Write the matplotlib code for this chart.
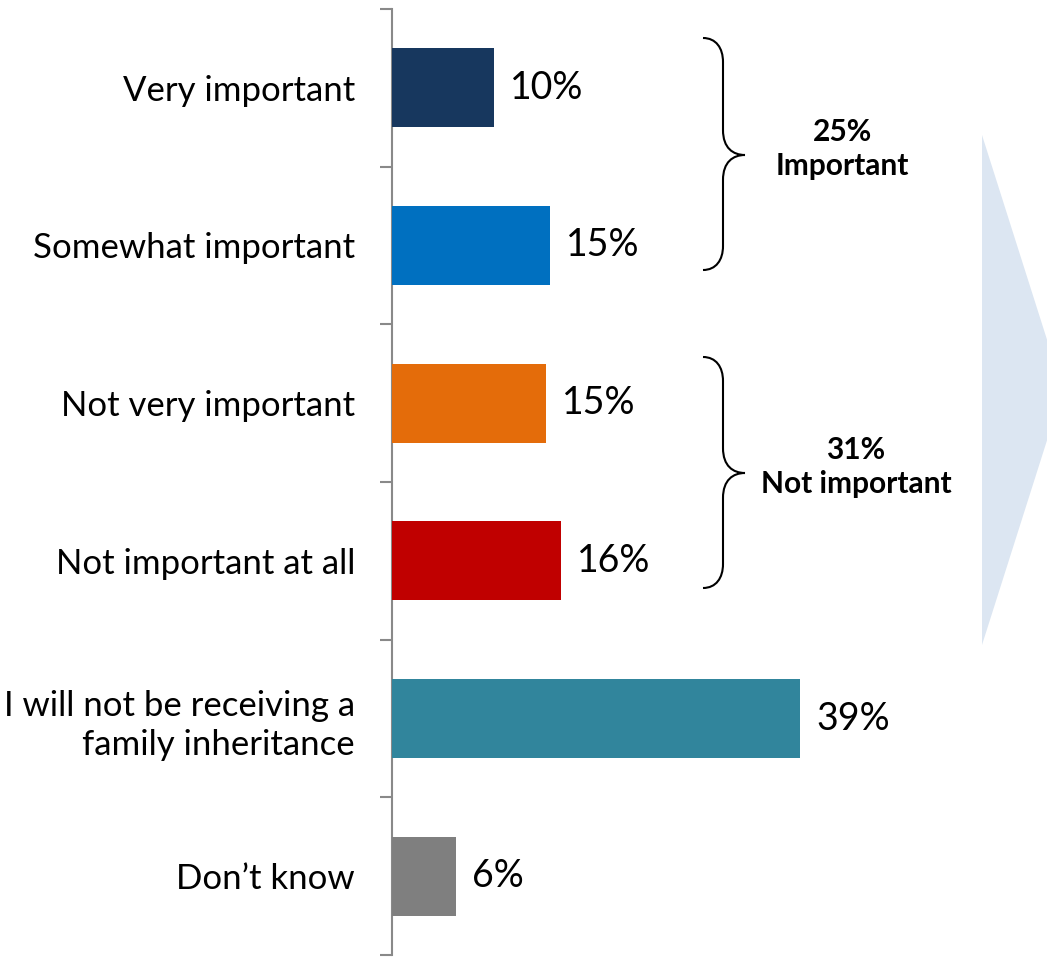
import matplotlib
matplotlib.use("Agg")
import matplotlib.pyplot as plt
from matplotlib.patches import Polygon, PathPatch
from matplotlib.path import Path

categories = ["Very important", "Somewhat important", "Not very important",
              "Not important at all", "I will not be receiving a\nfamily inheritance",
              "Don\u2019t know"]
values = [9.76, 15.12, 14.74, 16.17, 39.04, 6.12]
value_labels = ["10%", "15%", "15%", "16%", "39%", "6%"]
colors = ["#17375E", "#0070C0", "#E46C0A", "#C00000", "#31859C", "#7F7F7F"]
group_labels = ["25%\nImportant", "31%\nNot important"]

W, H = 1047, 959
FONT = "Lato"
plt.rcParams['font.family'] = [FONT, 'DejaVu Sans']

fig = plt.figure(figsize=(W / 100, H / 100), dpi=100)

def fx(x):
    return x / W

def fy(y):
    return 1 - y / H

def px(x, y):
    return (fx(x), fy(y))

# background arrow shape (decorative)
arrow = Polygon([px(982, 135), px(1063, 390), px(982, 645)], closed=True,
                transform=fig.transFigure, facecolor="#DCE6F2", edgecolor="none", zorder=0)
fig.add_artist(arrow)

ax = fig.add_axes([fx(392), fy(955), fx(W) - fx(392), fy(9) - fy(955)])
ax.set_facecolor("none")
n = len(categories)
ypos = list(range(n))
ax.barh(ypos, values, height=0.5, color=colors, zorder=3)
ax.set_xlim(0, 655 / 10.45)
ax.set_ylim(n - 0.5, -0.5)

for s in ["top", "right", "bottom"]:
    ax.spines[s].set_visible(False)
ax.spines["left"].set_color("#898989")
ax.spines["left"].set_linewidth(1.5)
ax.set_xticks([])
ax.set_yticks([i - 0.5 for i in range(n + 1)])
ax.set_yticklabels([])
ax.tick_params(axis="y", which="major", length=8.6, width=1.5, color="#898989", direction="out")
ax.set_yticks(ypos, minor=True)
ax.set_yticklabels(categories, minor=True, fontsize=25, ha="right",
                   linespacing=1.27)
ax.tick_params(axis="y", which="minor", length=0, pad=26.6)

for y, v, lab in zip(ypos, values, value_labels):
    ax.annotate(lab, (v, y), xytext=(16, 0), textcoords="offset pixels",
                va="center", ha="left", fontsize=27, color="black")

def brace(y0, y1, tip_y, xe=703, xv=723, xt=745):
    verts = [px(xe, y0),
             px(xv - 7, y0), px(xv, y0 + 10), px(xv, y0 + 24),
             px(xv, tip_y - 25),
             px(xv, tip_y - 7), px(xt - 12, tip_y), px(xt, tip_y),
             px(xt - 12, tip_y), px(xv, tip_y + 7), px(xv, tip_y + 25),
             px(xv, y1 - 24),
             px(xv, y1 - 10), px(xv - 7, y1), px(xe, y1)]
    codes = [Path.MOVETO,
             Path.CURVE4, Path.CURVE4, Path.CURVE4,
             Path.LINETO,
             Path.CURVE4, Path.CURVE4, Path.CURVE4,
             Path.CURVE4, Path.CURVE4, Path.CURVE4,
             Path.LINETO,
             Path.CURVE4, Path.CURVE4, Path.CURVE4]
    fig.add_artist(PathPatch(Path(verts, codes), transform=fig.transFigure,
                             facecolor="none", edgecolor="black", linewidth=1.5))

brace(38, 270, 155)
brace(357, 588, 473)

fig.text(fx(842), fy(149), group_labels[0], ha="center", va="center",
         fontsize=21.5, fontweight="bold", linespacing=1.25)
fig.text(fx(856), fy(467), group_labels[1], ha="center", va="center",
         fontsize=21.5, fontweight="bold", linespacing=1.25)

fig.savefig("out.png", dpi=100)
